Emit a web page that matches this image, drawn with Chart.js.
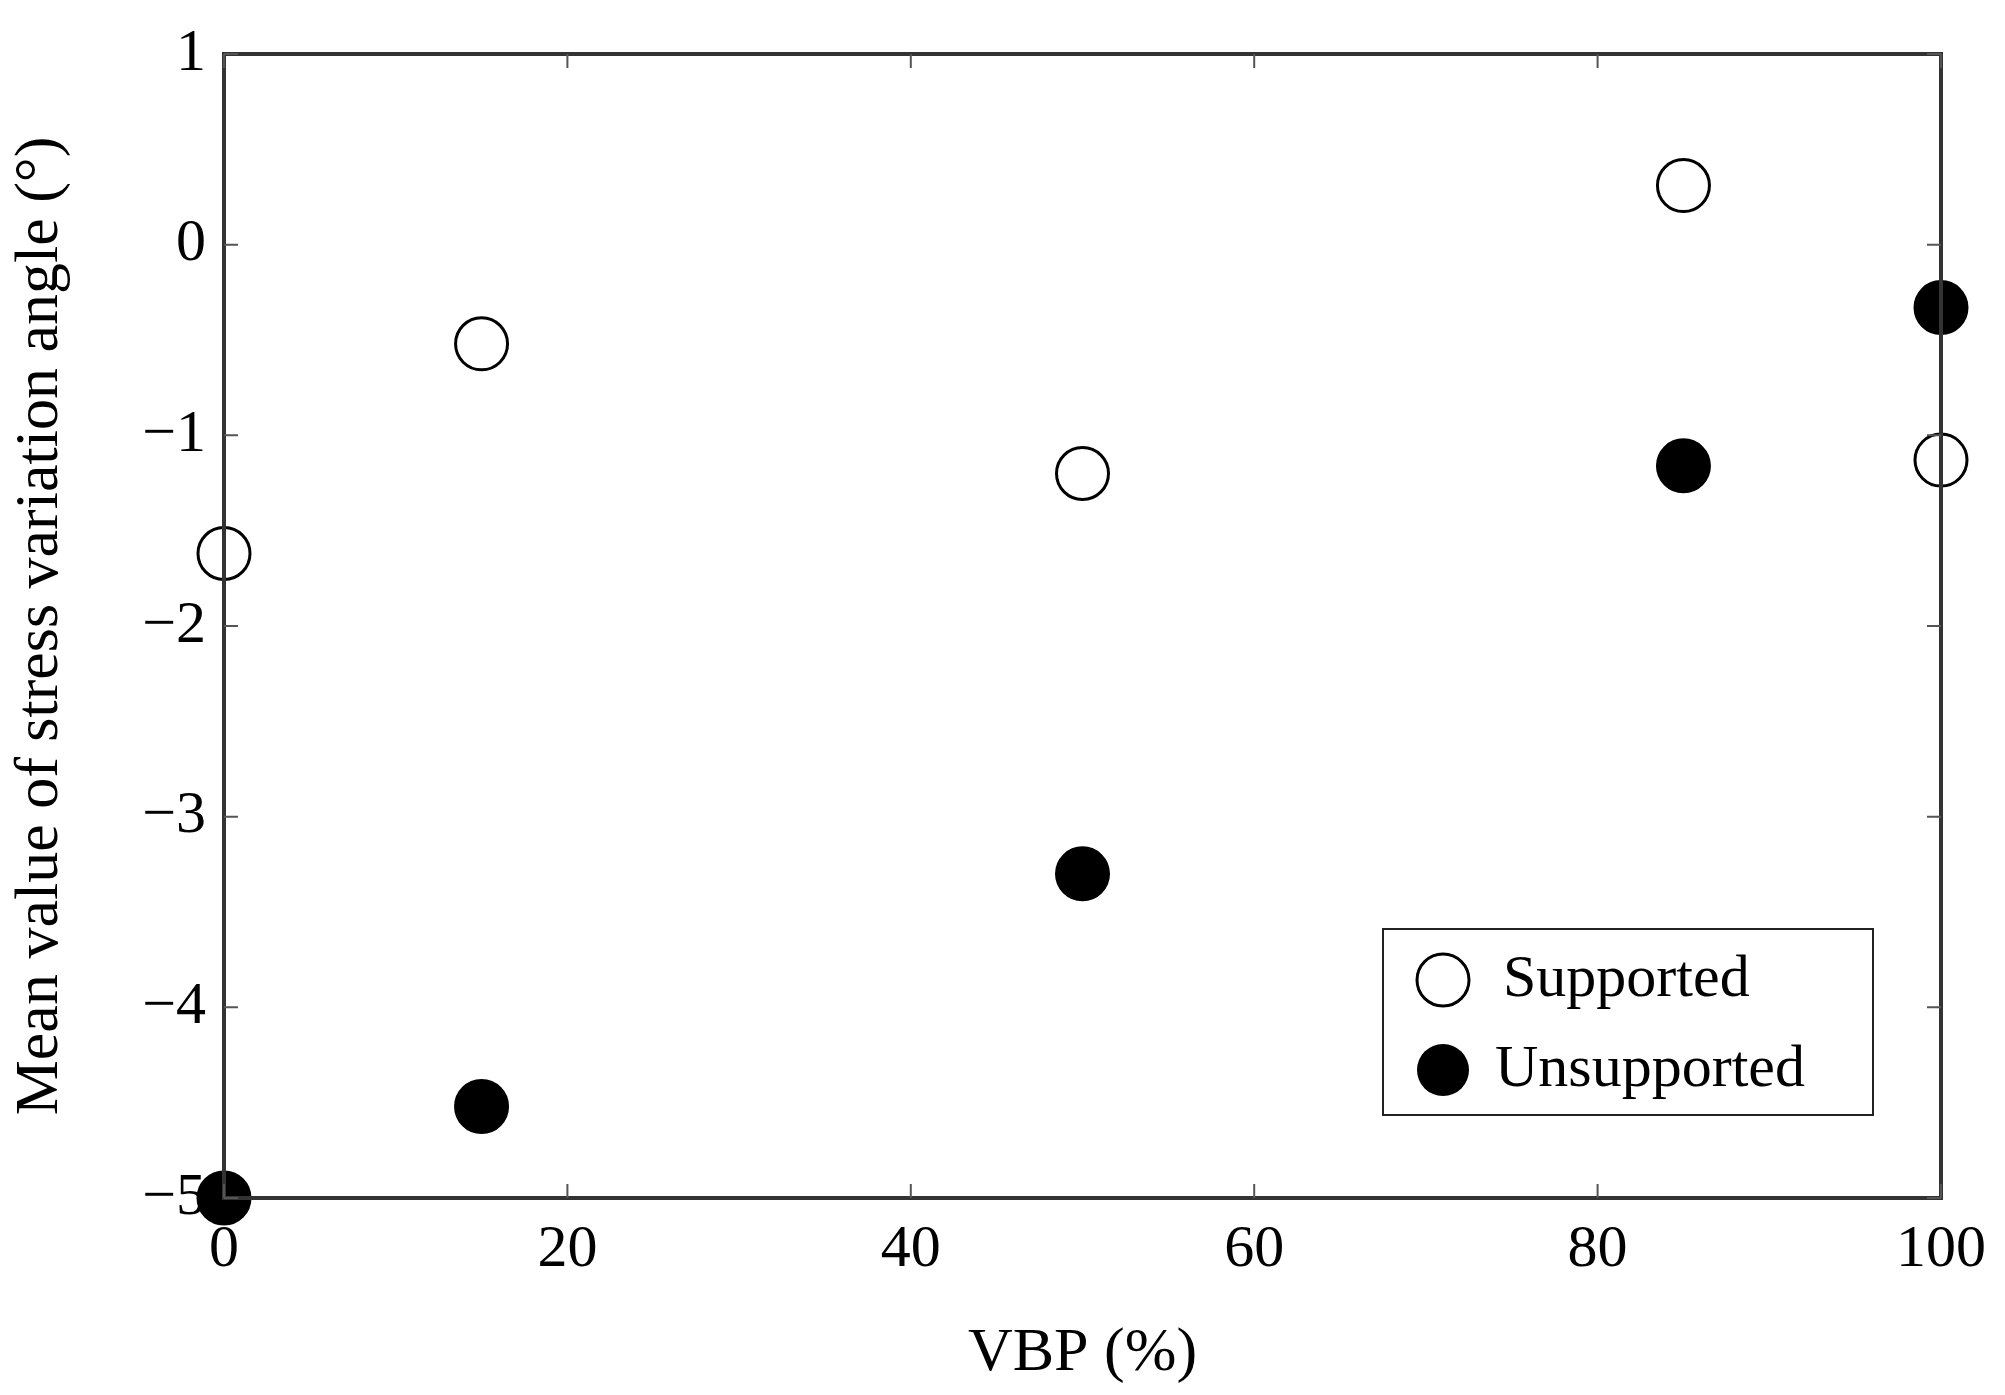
<!DOCTYPE html>
<html><head><meta charset="utf-8">
<script src="https://cdn.jsdelivr.net/npm/chart.js@4"></script>
<style>html,body{margin:0;background:#fff}#w{width:2005px;height:1395px}</style>
</head><body><div id="w"><canvas id="c"></canvas></div>
<script>
const vbp = [0, 15, 50, 85, 100];
const supported = [-1.62, -0.52, -1.2, 0.31, -1.13];
const unsupported = [-5.0, -4.52, -3.3, -1.16, -0.33];
const xTicks = [0, 20, 40, 60, 80, 100];
const yTicks = [-5, -4, -3, -2, -1, 0, 1];
const seriesNames = ['Supported', 'Unsupported'];
const F = 'Liberation Serif, Times New Roman, serif';

const frame = {
  id: 'frame',
  afterDraw(ch) {
    const {ctx, chartArea: a, scales: {x, y}} = ch;
    ctx.save();
    ctx.strokeStyle = '#333'; ctx.lineWidth = 4;
    ctx.strokeRect(a.left, a.top, a.right - a.left, a.bottom - a.top);
    ctx.lineWidth = 2; ctx.strokeStyle = '#555';
    const L = 14;
    xTicks.forEach(v => { const p = x.getPixelForValue(v);
      ctx.beginPath(); ctx.moveTo(p, a.bottom); ctx.lineTo(p, a.bottom - L);
      ctx.moveTo(p, a.top); ctx.lineTo(p, a.top + L); ctx.stroke(); });
    yTicks.forEach(v => { const p = y.getPixelForValue(v);
      ctx.beginPath(); ctx.moveTo(a.left, p); ctx.lineTo(a.left + L, p);
      ctx.moveTo(a.right, p); ctx.lineTo(a.right - L, p); ctx.stroke(); });
    const bx = 1383, by = 929, bw = 490, bh = 186;
    ctx.fillStyle = '#fff'; ctx.fillRect(bx, by, bw, bh);
    ctx.strokeStyle = '#222'; ctx.lineWidth = 2; ctx.strokeRect(bx, by, bw, bh);
    ctx.font = '60px ' + F; ctx.textBaseline = 'middle'; ctx.fillStyle = '#000';
    [[0, 980], [1, 1070]].forEach(([i, yy]) => {
      ctx.beginPath(); ctx.arc(bx + 60, yy, 26, 0, Math.PI * 2);
      ctx.lineWidth = 3; ctx.strokeStyle = '#000';
      if (i === 1) { ctx.fillStyle = '#000'; ctx.fill(); } else { ctx.fillStyle = '#fff'; ctx.fill(); ctx.stroke(); }
      ctx.fillStyle = '#000';
      ctx.fillText(seriesNames[i], bx + (i === 0 ? 120 : 112), yy);
    });
    ctx.restore();
  }
};

new Chart(document.getElementById('c'), {
  type: 'scatter',
  data: { datasets: [
    { label: seriesNames[0], data: vbp.map((v, i) => ({x: v, y: supported[i]})),
      pointRadius: 26, pointBackgroundColor: '#fff', pointBorderColor: '#000', pointBorderWidth: 3, clip: false },
    { label: seriesNames[1], data: vbp.map((v, i) => ({x: v, y: unsupported[i]})),
      pointRadius: 26, pointBackgroundColor: '#000', pointBorderColor: '#000', pointBorderWidth: 3, clip: false }
  ]},
  options: {
    responsive: true, maintainAspectRatio: false, animation: false,
    layout: { padding: { top: 54, right: 64, left: 0, bottom: 0 } },
    plugins: { legend: { display: false }, tooltip: { enabled: false } },
    scales: {
      x: { type: 'linear', min: 0, max: 100,
        afterBuildTicks: s => { s.ticks = xTicks.map(v => ({value: v})); },
        afterFit: s => { s.height = 197; },
        grid: { display: false }, border: { display: false },
        ticks: { color: '#000', font: { family: F, size: 60 }, padding: 8 },
        title: { display: true, text: 'VBP (%)', color: '#000', font: { family: F, size: 62 }, padding: { top: 0 } } },
      y: { min: -5, max: 1,
        afterBuildTicks: s => { s.ticks = yTicks.map(v => ({value: v})); },
        afterFit: s => { s.width = 224; },
        grid: { display: false }, border: { display: false },
        ticks: { color: '#000', font: { family: F, size: 60 }, padding: 10,
          callback: v => String(v).replace('-', '−') },
        title: { display: true, text: 'Mean value of stress variation angle (°)', color: '#000', font: { family: F, size: 62 }, padding: { bottom: 0 } } }
    }
  },
  plugins: [frame]
});
</script></body></html>
